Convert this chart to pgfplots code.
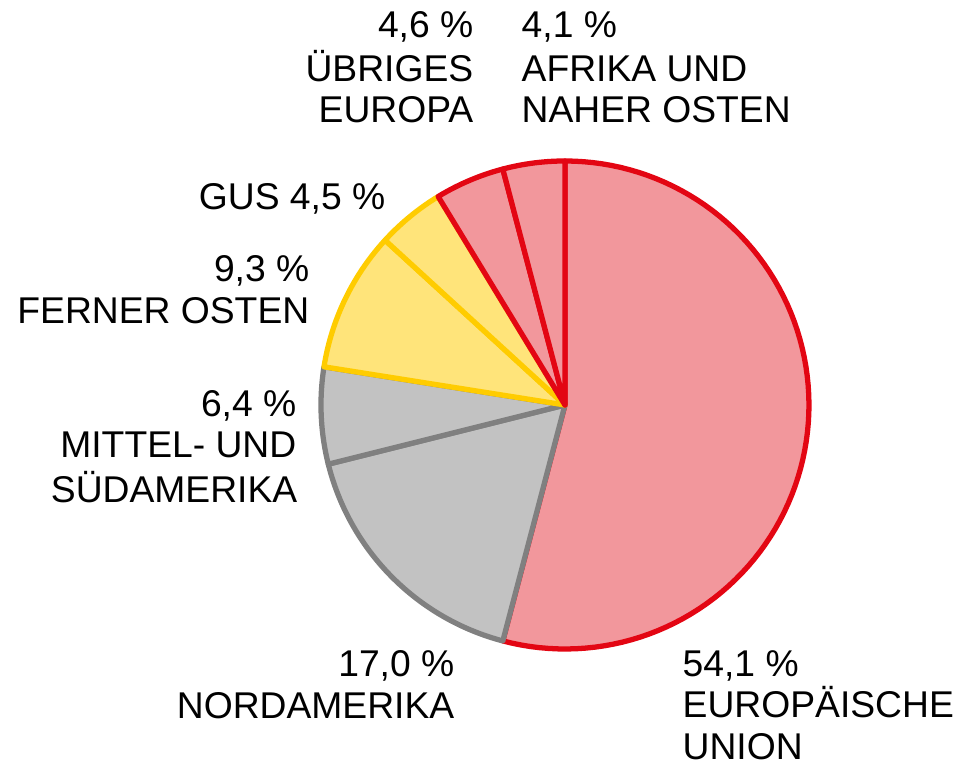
\documentclass[border=0pt]{standalone}
\usepackage{pgfplots}
\pgfplotsset{compat=1.18}
\usepackage{fontspec}
\setmainfont{Liberation Sans}

\definecolor{rline}{HTML}{E30613}
\definecolor{rfill}{HTML}{F2979C}
\definecolor{gline}{HTML}{808080}
\definecolor{gfill}{HTML}{C2C2C2}
\definecolor{yline}{HTML}{FFCC00}
\definecolor{yfill}{HTML}{FFE47A}

\tikzset{lbl/.style={font=\fontsize{10.6}{12}\selectfont, inner sep=0pt}}

% shares in percent, clockwise from 12 o'clock
\def\pEU{54.1}
\def\pNA{17.0}
\def\pMS{6.4}
\def\pFO{9.3}
\def\pGUS{4.5}
\def\pUE{4.6}
\def\pAF{4.1}

\begin{document}
\begin{tikzpicture}
\pgfmathsetmacro\aA{90}
\pgfmathsetmacro\aB{\aA-3.6*\pEU}
\pgfmathsetmacro\aC{\aB-3.6*\pNA}
\pgfmathsetmacro\aD{\aC-3.6*\pMS}
\pgfmathsetmacro\aE{\aD-3.6*\pFO}
\pgfmathsetmacro\aF{\aE-3.6*\pGUS}
\pgfmathsetmacro\aG{\aF-3.6*\pUE}
\pgfmathsetmacro\aH{\aG-3.6*\pAF}
\begin{axis}[
  at={(0,0)}, anchor=south west,
  scale only axis,
  width=9.7cm, height=7.68cm,
  xmin=0, xmax=970, ymin=0, ymax=768,
  hide axis,
  clip=false,
  samples=90,
  line join=round,
  every axis plot/.append style={line width=1.5pt},
]
% wedge: centre (565,363), radius 244
\addplot[draw=rline, fill=rfill, domain=\aB:\aA] ({565+244*cos(x)},{363+244*sin(x)}) -- (565,363) -- cycle;
\addplot[draw=gline, fill=gfill, domain=\aC:\aB] ({565+244*cos(x)},{363+244*sin(x)}) -- (565,363) -- cycle;
\addplot[draw=gline, fill=gfill, domain=\aD:\aC] ({565+244*cos(x)},{363+244*sin(x)}) -- (565,363) -- cycle;
\addplot[draw=yline, fill=yfill, domain=\aE:\aD] ({565+244*cos(x)},{363+244*sin(x)}) -- (565,363) -- cycle;
\addplot[draw=yline, fill=yfill, domain=\aF:\aE] ({565+244*cos(x)},{363+244*sin(x)}) -- (565,363) -- cycle;
\addplot[draw=rline, fill=rfill, domain=\aG:\aF] ({565+244*cos(x)},{363+244*sin(x)}) -- (565,363) -- cycle;
\addplot[draw=rline, fill=rfill, domain=\aH:\aG] ({565+244*cos(x)},{363+244*sin(x)}) -- (565,363) -- cycle;

% labels (one node per line, placed on baselines)
\node[lbl, anchor=base east] at (474,730) {4,6 \%};
\node[lbl, anchor=base east] at (474,686) {ÜBRIGES};
\node[lbl, anchor=base east] at (474,645) {EUROPA};

\node[lbl, anchor=base west] at (521,730) {4,1 \%};
\node[lbl, anchor=base west] at (521,686) {AFRIKA UND};
\node[lbl, anchor=base west] at (521,645) {NAHER OSTEN};

\node[lbl, anchor=base east] at (386,558) {GUS 4,5 \%};

\node[lbl, anchor=base east] at (310,486) {9,3 \%};
\node[lbl, anchor=base east] at (310,444) {FERNER OSTEN};

\node[lbl, anchor=base east] at (297,351) {6,4 \%};
\node[lbl, anchor=base east] at (297,310) {MITTEL- UND};
\node[lbl, anchor=base east] at (298,265) {SÜDAMERIKA};

\node[lbl, anchor=base east] at (455,91) {17,0 \%};
\node[lbl, anchor=base east] at (455,49) {NORDAMERIKA};

\node[lbl, anchor=base west] at (682,91) {54,1 \%};
\node[lbl, anchor=base west] at (682,50) {EUROPÄISCHE};
\node[lbl, anchor=base west] at (682,8) {UNION};
\end{axis}
\path[use as bounding box] (0,0) rectangle (9.7,7.68);
\end{tikzpicture}
\end{document}
